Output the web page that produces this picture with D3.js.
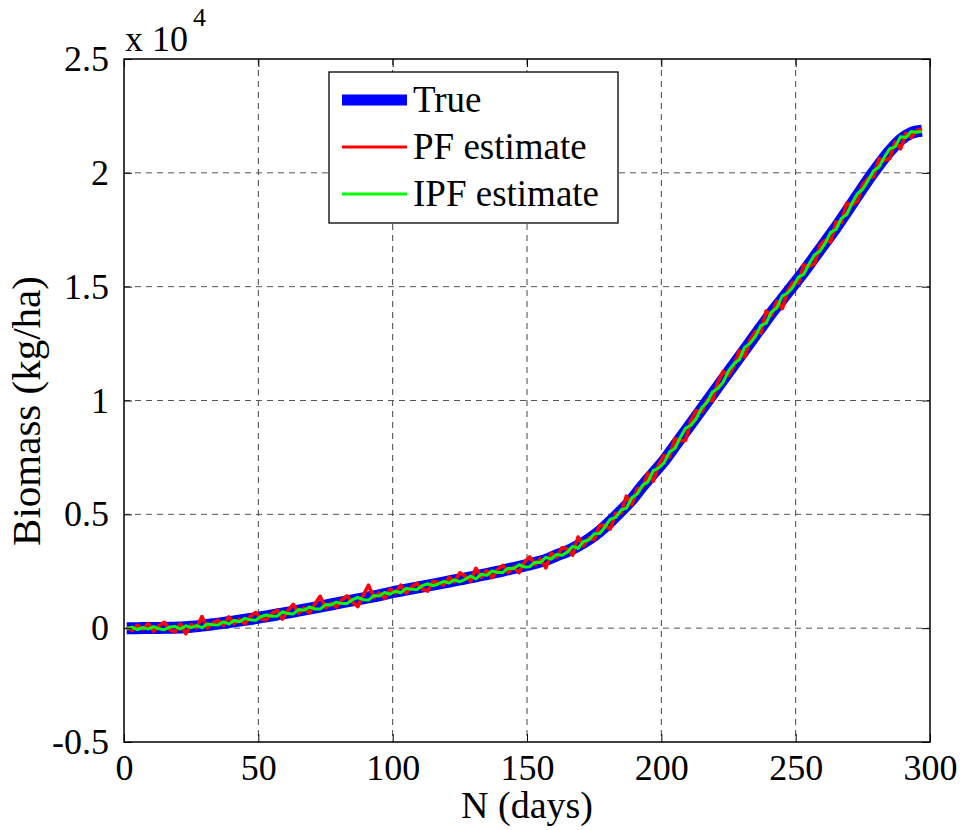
<!DOCTYPE html>
<html><head><meta charset="utf-8">
<script src="https://cdn.jsdelivr.net/npm/d3@7"></script>
<style>body{margin:0;background:#fff}svg{display:block}text{font-family:"Liberation Serif","Times New Roman",serif;fill:#000}</style>
</head><body><svg id="c" width="962" height="830"></svg>
<script>
const xTicks = [0, 50, 100, 150, 200, 250, 300];
const yTicks = [-0.5, 0, 0.5, 1, 1.5, 2, 2.5];
const yTickLabels = ["-0.5", "0", "0.5", "1", "1.5", "2", "2.5"];
const seriesNames = ["True", "PF estimate", "IPF estimate"];
const seriesColors = ["#0000ff", "#ff0000", "#00ff00"];

const trueDays = [1,5,9,13,17,21,25,29,33,37,41,45,49,53,57,61,65,69,73,77,81,85,89,93,97,101,105,109,113,117,121,125,129,133,137,141,145,149,153,157,161,165,169,173,177,181,185,189,193,197,201,205,209,213,217,221,225,229,233,237,241,245,249,253,257,261,265,269,273,277,281,285,289,293,297];
const trueVals = [0,0,10,10,20,30,60,110,170,230,
300,370,440,520,600,680,770,860,950,1040,
1130,1220,1310,1400,1500,1600,1690,1780,1870,1960,
2050,2140,2230,2330,2430,2530,2640,2750,2870,3000,
3200,3380,3620,3900,4250,4680,5150,5650,6250,6800,
7350,8000,8650,9300,9950,10600,11250,11900,12550,13200,
13850,14450,15050,15650,16300,16950,17600,18300,19000,19700,
20350,20950,21450,21750,21850];

const estDays = [1,3,5,7,9,11,13,15,17,19,21,23,25,27,29,31,33,35,37,39,41,43,45,47,49,51,53,55,57,59,61,63,65,67,69,71,73,75,77,79,81,83,85,87,89,91,93,95,97,99,101,103,105,107,109,111,113,115,117,119,121,123,125,127,129,131,133,135,137,139,141,143,145,147,149,151,153,155,157,159,161,163,165,167,169,171,173,175,177,179,181,183,185,187,189,191,193,195,197,199,201,203,205,207,209,211,213,215,217,219,221,223,225,227,229,231,233,235,237,239,241,243,245,247,249,251,253,255,257,259,261,263,265,267,269,271,273,275,277,279,281,283,285,287,289,291,293,295,297];
const pfVals = [65,-95,130,-45,200,-135,105,255,-60,-165,
190,-245,155,20,510,10,220,345,120,490,
205,385,195,515,695,415,375,640,790,400,
775,1045,660,880,670,1050,1400,900,1090,925,
1240,1415,1140,945,1440,1885,1335,1545,1310,1710,
1550,1885,1545,1800,1970,1730,1630,2045,2010,1895,
2225,2030,2430,2280,2070,2630,2235,2525,2220,2560,
2755,2455,2690,2440,2895,3130,2790,3045,2650,3290,
3105,3530,3475,3210,4005,3615,3965,3900,4505,4515,
4360,5045,5055,5800,5425,6110,6185,6815,6450,7185,
7590,7515,8320,8230,8250,9120,9555,9495,10015,9985,
10790,11275,11105,11510,12190,11905,12645,13035,12960,13925,
13740,14360,14035,14815,15195,15160,15955,15895,16010,16800,
17045,16955,17840,17820,18670,18585,18760,19495,19765,19835,
20620,20555,20630,21360,21050,21730,21560,21850,21930];
const ipfVals = [-30,40,-60,25,-40,70,-30,-65,50,75,
-40,105,20,115,20,180,150,140,280,185,
340,285,430,365,350,510,580,520,530,720,
640,625,820,785,930,845,840,1035,1020,1145,
1080,1085,1250,1355,1250,1235,1430,1410,1570,1490,
1620,1555,1750,1705,1700,1865,1950,1865,1940,2055,
1980,2125,2040,2145,2290,2160,2370,2320,2510,2450,
2450,2635,2620,2785,2690,2700,2900,2885,3110,3030,
3240,3200,3340,3600,3500,3810,3870,4145,4160,4445,
4790,4865,5190,5270,5730,5890,6280,6425,6920,7035,
7260,7735,7890,8365,8780,8915,9210,9675,9920,10375,
10530,10805,11300,11605,11800,12335,12510,12815,13290,13395,
13890,14070,14590,14720,14990,15420,15540,16005,16400,16555,
16910,17385,17510,18000,18170,18680,19090,19290,19670,20095,
20250,20690,21060,21140,21580,21550,21820,21780,21820];

const L = 124, R = 930, T = 59, B = 742;
const svg = d3.select("#c");
const x = d3.scaleLinear().domain([0, 300]).range([L, R]);
const y = d3.scaleLinear().domain([-0.5, 2.5]).range([B, T]);
const scale = 1e4;

// grid
const g = svg.append("g");
g.selectAll("line.gx").data(xTicks.slice(1, -1)).join("line")
  .attr("x1", d => x(d)).attr("x2", d => x(d)).attr("y1", T).attr("y2", B)
  .attr("stroke", "#444").attr("stroke-width", 1).attr("stroke-dasharray", "6,5");
g.selectAll("line.gy").data(yTicks.slice(1, -1)).join("line")
  .attr("y1", d => y(d)).attr("y2", d => y(d)).attr("x1", L).attr("x2", R)
  .attr("stroke", "#555").attr("stroke-width", 1).attr("stroke-dasharray", "6,5");

// lines
const lineTrue = d3.line().x(d => x(d[0])).y(d => y(d[1] / scale)).curve(d3.curveMonotoneX);
const lineEst = d3.line().x(d => x(d[0])).y(d => y(d[1] / scale));
svg.append("path").datum(trueDays.map((d, i) => [d, trueVals[i]]))
  .attr("d", lineTrue).attr("fill", "none").attr("stroke", seriesColors[0]).attr("stroke-width", 12);
svg.append("path").datum(estDays.map((d, i) => [d, pfVals[i]]))
  .attr("d", lineEst).attr("fill", "none").attr("stroke", seriesColors[1]).attr("stroke-width", 3.6).attr("stroke-linejoin", "round");
svg.append("path").datum(estDays.map((d, i) => [d, ipfVals[i]]))
  .attr("d", lineEst).attr("fill", "none").attr("stroke", seriesColors[2]).attr("stroke-width", 3).attr("stroke-linejoin", "round");

// axes
const ax = svg.append("g");
const xb = ax.append("g").attr("transform", `translate(0,${B})`)
  .call(d3.axisBottom(x).tickValues(xTicks).tickSize(-8).tickPadding(18));
const xt = ax.append("g").attr("transform", `translate(0,${T})`)
  .call(d3.axisTop(x).tickValues(xTicks).tickSize(-8).tickFormat(""));
const yl = ax.append("g").attr("transform", `translate(${L},0)`)
  .call(d3.axisLeft(y).tickValues(yTicks).tickSize(-8).tickPadding(15).tickFormat((d, i) => yTickLabels[i]));
const yr = ax.append("g").attr("transform", `translate(${R},0)`)
  .call(d3.axisRight(y).tickValues(yTicks).tickSize(-8).tickFormat(""));
ax.selectAll(".domain").remove();
ax.selectAll(".tick line").attr("stroke", "#000").attr("stroke-width", 1);
ax.selectAll("text").attr("font-family", "Liberation Serif").attr("font-size", 36).attr("fill", "#000");
xb.selectAll("text").attr("dy", "0.71em").attr("y", 12);
svg.append("rect").attr("x", L).attr("y", T).attr("width", R - L).attr("height", B - T)
  .attr("fill", "none").attr("stroke", "#000").attr("stroke-width", 1.5);

// exponent
const ex = svg.append("text").attr("x", 125).attr("y", 51).attr("font-size", 36);
ex.append("tspan").text("x 10");
ex.append("tspan").attr("font-size", 26).attr("dy", -25).attr("dx", 5).text("4");

// labels
svg.append("text").attr("x", (L + R) / 2).attr("y", 818).attr("text-anchor", "middle")
  .attr("font-size", 38).text("N (days)");
svg.append("text").attr("transform", "translate(40,411) rotate(-90)").attr("text-anchor", "middle")
  .attr("font-size", 41).text("Biomass (kg/ha)");

// legend
const lg = svg.append("g");
lg.append("rect").attr("x", 329).attr("y", 72).attr("width", 289).attr("height", 151)
  .attr("fill", "#fff").attr("stroke", "#000").attr("stroke-width", 1.3);
const lw = [11, 3, 3];
seriesNames.forEach((n, i) => {
  const yy = 100 + i * 47;
  lg.append("line").attr("x1", 342).attr("x2", 407).attr("y1", yy).attr("y2", yy)
    .attr("stroke", seriesColors[i]).attr("stroke-width", lw[i]);
  lg.append("text").attr("x", 413).attr("y", yy + 12).attr("font-size", 37).text(n);
});
</script></body></html>
